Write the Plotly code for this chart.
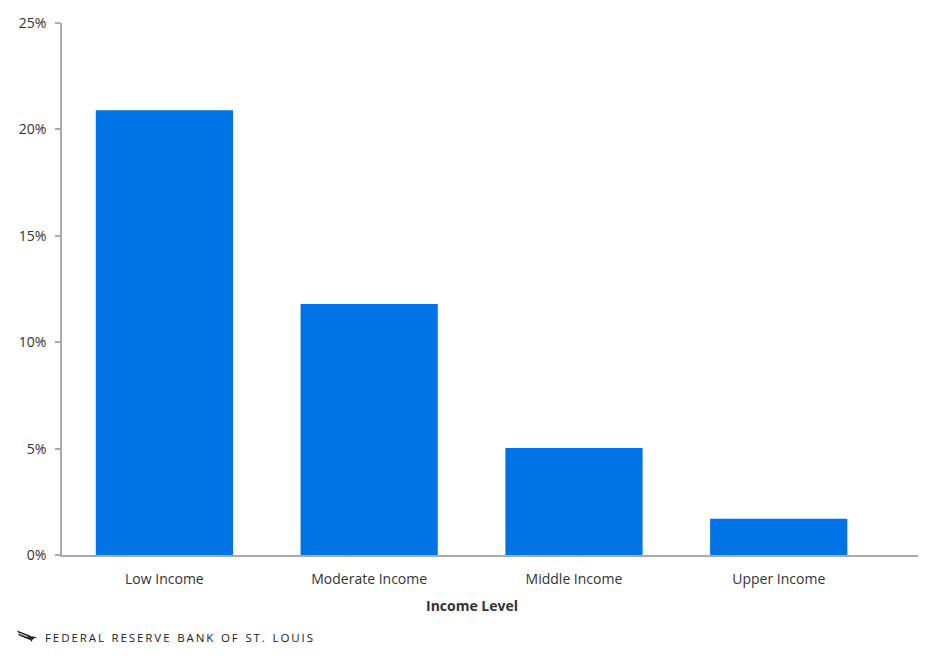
import plotly.graph_objects as go

categories = ["Low Income", "Moderate Income", "Middle Income", "Upper Income"]
shares = [20.9, 11.8, 5.03, 1.7]
y_ticks = [0, 5, 10, 15, 20, 25]
y_tick_labels = ["0%", "5%", "10%", "15%", "20%", "25%"]

text_color = "#333333"
font_family = "Open Sans, Lato, sans-serif"

# page body has an 8px margin, so the figure is a bit smaller than the window
W, H = 929, 644
ML, MR, MT, MB = 54, 19, 15, 97
PW, PH = W - ML - MR, H - MT - MB


def paper(px, py):
    # window pixel -> paper coords (footer and axis title placement)
    return (px - 8 - ML) / PW, (H - MB + 8 - py) / PH


fig = go.Figure(
    go.Bar(x=categories, y=shares, marker=dict(color="#0073E6", line=dict(width=0)),
           hoverinfo="x+y")
)

fig.update_layout(
    width=W, height=H,
    margin=dict(l=ML, r=MR, t=MT, b=MB),
    plot_bgcolor="white", paper_bgcolor="white",
    bargap=0.33,
    showlegend=False,
    font=dict(family=font_family, size=14, color=text_color),
)

# the axis line runs a bit past the last category, as in the original
fig.update_xaxes(
    range=[-0.5, 3.68], automargin=False,
    showline=True, linecolor="#aaaaaa", linewidth=1.5,
    ticks="", showgrid=False,
    tickfont=dict(size=14, color=text_color),
    ticklabelstandoff=10,
)
fig.update_yaxes(
    range=[0, 25], tickvals=y_ticks, ticktext=y_tick_labels, automargin=False,
    showline=True, linecolor="#aaaaaa", linewidth=1.5,
    ticks="outside", ticklen=5, tickcolor="#aaaaaa", tickwidth=1.5,
    showgrid=False, zeroline=False,
    tickfont=dict(size=14, color=text_color),
    ticklabelstandoff=6,
)

# axis title is centred under the categories, not the whole axis line
ax, ay = paper(472, 605)
fig.add_annotation(
    text="<b>Income Level</b>", xref="paper", yref="paper", x=ax, y=ay,
    xanchor="center", yanchor="middle", showarrow=False,
    font=dict(size=14, color=text_color),
)

# footer logo (rough eagle mark)
logo_parts = [
    [(17, 630.5), (30, 635.5), (31, 637.5), (18, 632.5)],
    [(18, 633.5), (30, 638), (30, 640), (19, 635.5)],
    [(27, 636), (37, 637), (33, 639), (31.5, 642), (30, 639)],
]
for part in logo_parts:
    pts = [paper(px, py) for px, py in part]
    path = "M " + " L ".join(f"{x:.5f} {y:.5f}" for x, y in pts) + " Z"
    fig.add_shape(type="path", xref="paper", yref="paper", path=path,
                  fillcolor="#222222", line=dict(width=0))

bank = "FEDERAL RESERVE BANK OF ST. LOUIS"
spaced = "\u2009\u2004\u2009".join("\u2009".join(word) for word in bank.split(" "))
tx, ty = paper(43, 637)
fig.add_annotation(
    text=spaced, xref="paper", yref="paper", x=tx, y=ty,
    xanchor="left", yanchor="middle", showarrow=False,
    font=dict(size=11.5, color="#222222", family=font_family),
)

fig.write_html("out.html")
